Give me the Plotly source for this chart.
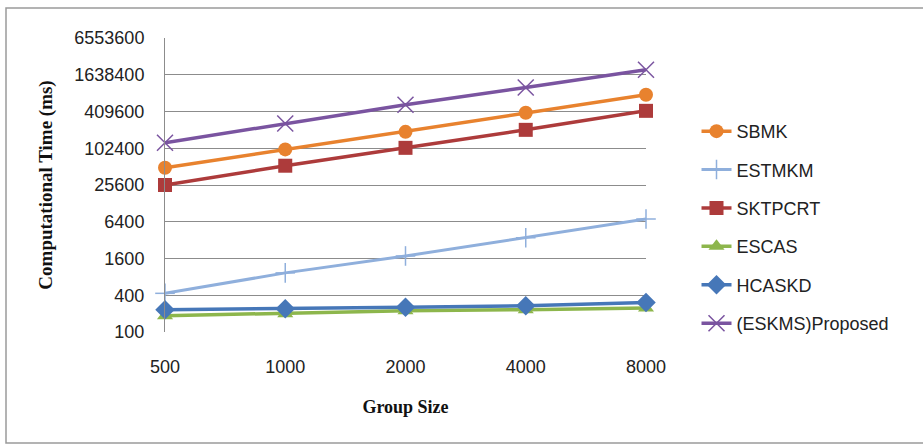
import plotly.graph_objects as go

# Group sizes (categorical x axis)
group_sizes = ["500", "1000", "2000", "4000", "8000"]

# Computational time (ms) per method
sbmk = [49000, 98000, 190000, 390000, 770000]
estmkm = [430, 930, 1760, 3500, 7100]
sktpcrt = [25600, 53000, 104000, 205000, 420000]
escas = [185, 200, 222, 232, 248]
hcaskd = [232, 240, 255, 268, 305]
eskms_proposed = [126000, 260000, 530000, 1010000, 1980000]

y_ticks = [100, 400, 1600, 6400, 25600, 102400, 409600, 1638400, 6553600]

series = [
    ("SBMK", sbmk, "#E8822E", "circle", 14, 3.5),
    ("ESTMKM", estmkm, "#8FAFDC", "line-ns-open", 14, 3.0),
    ("SKTPCRT", sktpcrt, "#AD3B3B", "square", 14, 3.5),
    ("ESCAS", escas, "#8DB64C", "triangle-up", 14, 3.5),
    ("HCASKD", hcaskd, "#4677B8", "diamond", 15, 3.5),
    ("(ESKMS)Proposed", eskms_proposed, "#7A54A0", "x-thin-open", 16, 3.5),
]

fig = go.Figure()
for name, vals, color, sym, size, lw in series:
    marker = dict(symbol=sym, size=size, color=color)
    if sym.endswith("open"):
        marker["line"] = dict(color=color, width=1.5)
    fig.add_trace(go.Scatter(
        x=group_sizes, y=vals, name=name, mode="lines+markers",
        line=dict(color=color, width=lw), marker=marker,
        cliponaxis=False, legendgroup=name,
    ))

# ESTMKM cross marker: horizontal stroke drawn as a second marker layer
fig.add_trace(go.Scatter(
    x=group_sizes, y=estmkm, mode="markers", showlegend=False,
    marker=dict(symbol="line-ew-open", size=14, color="#8FAFDC",
                line=dict(color="#8FAFDC", width=1.5)),
    cliponaxis=False, hoverinfo="skip", legendgroup="ESTMKM",
))

fig.update_layout(
    width=923, height=445,
    margin=dict(l=165, r=277, t=38, b=113),
    paper_bgcolor="white", plot_bgcolor="white",
    font=dict(family="Liberation Sans, Arial, sans-serif", size=18, color="#222"),
    showlegend=True,
    legend=dict(
        x=1.105, y=0.745, xanchor="left", yanchor="top",
        font=dict(size=18, color="#222"),
        tracegroupgap=12, bgcolor="rgba(0,0,0,0)",
    ),
    xaxis=dict(
        type="category", range=[0, 4], showgrid=False, zeroline=False,
        showline=False, ticks="", ticklabelstandoff=22,
        tickfont=dict(size=18),
        title=dict(text="<b>Group Size</b>",
                   font=dict(family="Liberation Serif, Times New Roman, serif", size=18, color="#111"),
                   standoff=24),
    ),
    yaxis=dict(
        type="log", range=[2, 6.8165], tickvals=y_ticks,
        ticktext=[str(v) for v in y_ticks], tickfont=dict(size=18),
        showgrid=True, gridcolor="#8C8C8C", gridwidth=1,
        showline=True, linecolor="#8C8C8C", linewidth=1,
        zeroline=False, ticks="", ticklabelstandoff=16,
        title=dict(text="<b>Computational Time (ms)</b>",
                   font=dict(family="Liberation Serif, Times New Roman, serif", size=19, color="#111"),
                   standoff=16),
    ),
    shapes=[dict(
        type="rect", xref="paper", yref="paper", layer="below",
        x0=-159 / 481, x1=770 / 481, y0=-111 / 294, y1=324 / 294,
        line=dict(color="#9A9A9A", width=1.5), fillcolor="rgba(0,0,0,0)",
    )],
)

fig.write_html("out.html")
